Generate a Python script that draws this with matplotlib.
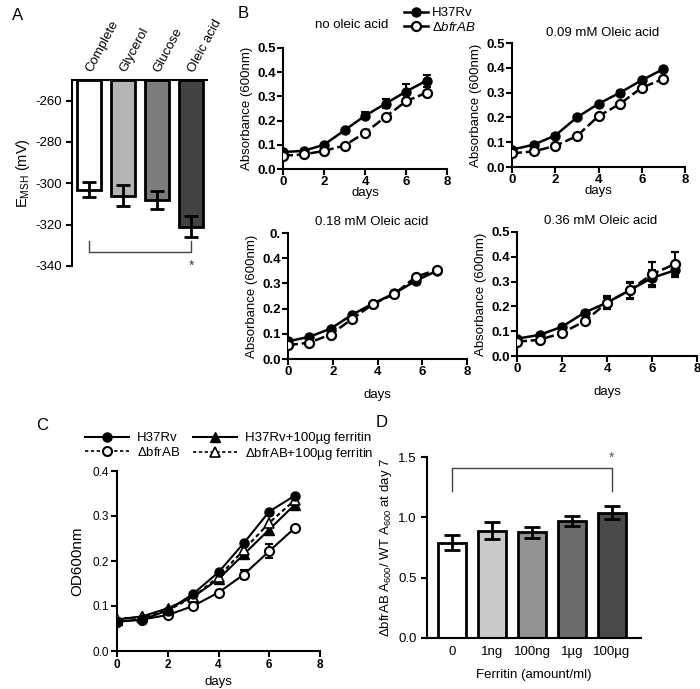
import matplotlib
matplotlib.use('Agg')
import matplotlib.pyplot as plt
from matplotlib.lines import Line2D
import numpy as np

plt.rcParams['font.family'] = ['Liberation Sans', 'DejaVu Sans']
plt.rcParams['mathtext.fontset'] = 'custom'
plt.rcParams['mathtext.rm'] = 'Liberation Sans'
plt.rcParams['mathtext.it'] = 'Liberation Sans:italic'
plt.rcParams['axes.unicode_minus'] = False

W, H = 700, 689

# ---- Panel A data ----
a_labels = ['Complete', 'Glycerol', 'Glucose', 'Oleic acid']
a_values = [-303, -306, -308, -321]
a_errors = [3.5, 5, 4.5, 5]
a_colors = ['white', '#b4b4b4', '#7c7c7c', '#434343']

# ---- Panel B data ----
b_titles = ['no oleic acid', '0.09 mM Oleic acid', '0.18 mM Oleic acid', '0.36 mM Oleic acid']
days = [0, 1, 2, 3, 4, 5, 6, 7]
days_018 = [0, 0.95, 1.9, 2.85, 3.8, 4.75, 5.7, 6.65]
b_wt = [
    [0.070, 0.075, 0.100, 0.160, 0.220, 0.270, 0.320, 0.365],
    [0.070, 0.090, 0.127, 0.200, 0.255, 0.300, 0.350, 0.395],
    [0.070, 0.088, 0.120, 0.175, 0.220, 0.260, 0.310, 0.350],
    [0.070, 0.085, 0.118, 0.175, 0.215, 0.265, 0.315, 0.345],
]
b_wt_err = [
    [0.005, 0.005, 0.005, 0.005, 0.015, 0.020, 0.030, 0.025],
    [0.005, 0.005, 0.005, 0.005, 0.005, 0.005, 0.005, 0.005],
    [0.005, 0.005, 0.005, 0.005, 0.005, 0.005, 0.005, 0.005],
    [0.005, 0.005, 0.005, 0.005, 0.020, 0.030, 0.030, 0.020],
]
b_mut = [
    [0.055, 0.060, 0.075, 0.097, 0.150, 0.215, 0.280, 0.315],
    [0.055, 0.063, 0.085, 0.125, 0.205, 0.255, 0.320, 0.355],
    [0.055, 0.065, 0.097, 0.158, 0.218, 0.258, 0.325, 0.355],
    [0.058, 0.065, 0.093, 0.140, 0.215, 0.265, 0.330, 0.370],
]
b_mut_err = [
    [0.004, 0.004, 0.004, 0.004, 0.004, 0.004, 0.004, 0.004],
    [0.004, 0.004, 0.004, 0.004, 0.004, 0.004, 0.004, 0.004],
    [0.004, 0.004, 0.004, 0.004, 0.004, 0.004, 0.004, 0.004],
    [0.004, 0.004, 0.004, 0.004, 0.025, 0.035, 0.050, 0.050],
]

# ---- Panel C data ----
c_wt = [0.065, 0.070, 0.090, 0.127, 0.175, 0.240, 0.310, 0.345]
c_mut = [0.065, 0.070, 0.080, 0.100, 0.130, 0.170, 0.222, 0.273]
c_mut_err = [0.003, 0.003, 0.003, 0.003, 0.003, 0.010, 0.015, 0.003]
c_wt_fer = [0.070, 0.077, 0.095, 0.120, 0.160, 0.215, 0.270, 0.325]
c_mut_fer = [0.072, 0.075, 0.090, 0.120, 0.165, 0.225, 0.285, 0.335]

# ---- Panel D data ----
d_labels = ['0', '1ng', '100ng', '1µg', '100µg']
d_values = [0.79, 0.89, 0.875, 0.97, 1.04]
d_errors = [0.06, 0.07, 0.045, 0.04, 0.05]
d_colors = ['white', '#c9c9c9', '#929292', '#6c6c6c', '#4a4a4a']


def px(l, t, r, b):
    return [l / W, 1 - b / H, (r - l) / W, (b - t) / H]


def style(ax):
    for s in ['top', 'right']:
        ax.spines[s].set_visible(False)
    for s in ['left', 'bottom']:
        ax.spines[s].set_linewidth(1.5)
    ax.tick_params(width=1.5, length=4)


fig = plt.figure(figsize=(W / 100, H / 100), dpi=100)

# ================= Panel A =================
ax = fig.add_axes(px(72, 80, 207, 266))
x = np.arange(len(a_labels))
top = -250
ax.bar(x, np.array(a_values) - top, bottom=top, width=0.68, color=a_colors,
       edgecolor='black', linewidth=2)
ax.errorbar(x, a_values, yerr=a_errors, fmt='none', ecolor='black',
            elinewidth=2, capsize=5, capthick=2)
ax.set_xlim(-0.5, 3.47)
ax.set_ylim(-340, -250)
ax.set_yticks([-260, -280, -300, -320, -340])
ax.spines['right'].set_visible(False)
ax.spines['bottom'].set_visible(False)
ax.spines['left'].set_linewidth(1.5)
ax.spines['top'].set_linewidth(1.5)
ax.xaxis.tick_top()
ax.set_xticks(x)
ax.set_xticklabels(a_labels, rotation=62, ha='left', va='center',
                   rotation_mode='anchor', fontsize=9.5)
ax.tick_params(axis='x', length=0, pad=6)
ax.tick_params(axis='y', width=1.5, length=4, labelsize=9.5)
ax.set_ylabel('E$_{\\mathrm{MSH}}$ (mV)', fontsize=10.5, labelpad=2)
# significance bracket
ax.plot([0, 0, 3, 3], [-328, -333, -333, -328], color='#444444', lw=1)
ax.text(3, -340, '*', ha='center', va='center', fontsize=10, color='#444444',
        clip_on=False)
fig.text(12 / W, 1 - 16 / H, 'A', fontsize=12, va='center')

# ================= Panel B =================
b_boxes = [(283, 48, 447, 169), (512, 43, 685, 167), (288, 233, 467, 359), (517, 232, 697, 356)]
b_title_pos = [(352, 25), (603, 33), (372, 222), (601, 221)]
for i, box in enumerate(b_boxes):
    ax = fig.add_axes(px(*box))
    style(ax)
    xs = days_018 if i == 2 else days
    ax.errorbar(xs, b_wt[i], yerr=b_wt_err[i], color='black', lw=1.8, marker='o',
                ms=6.5, mfc='black', mec='black', capsize=3, elinewidth=1.5,
                capthick=1.5, zorder=3)
    ax.errorbar(xs, b_mut[i], yerr=b_mut_err[i], color='black', lw=1.8,
                ls=(0, (4, 1.5)), marker='o', ms=6.5, mfc='white', mec='black',
                mew=1.6, capsize=3, elinewidth=1.5, capthick=1.5, zorder=4)
    ax.set_xlim(0, 8)
    ax.set_ylim(0, 0.5)
    ax.set_xticks([0, 2, 4, 6, 8])
    ax.set_yticks([0, 0.1, 0.2, 0.3, 0.4, 0.5])
    ylabels = ['0.0', '0.1', '0.2', '0.3', '0.4', '0.5']
    if i == 2:
        ylabels[-1] = '0.'
    ax.set_yticklabels(ylabels)
    for lab in ax.get_xticklabels() + ax.get_yticklabels():
        lab.set_fontweight('bold')
        lab.set_fontsize(9.5)
    ax.tick_params(pad=1)
    ax.set_ylabel('Absorbance (600nm)', fontsize=9.5, labelpad=3)
    ax.set_xlabel('days', fontsize=9.5, labelpad=8 if i >= 2 else -1)
    tx, ty = b_title_pos[i]
    fig.text(tx / W, 1 - ty / H, b_titles[i], fontsize=9.5, ha='center', va='center')

fig.text(238 / W, 1 - 14 / H, 'B', fontsize=12, va='center')
b_handles = [
    Line2D([], [], color='black', lw=1.8, marker='o', ms=6.5, mfc='black'),
    Line2D([], [], color='black', lw=1.8, marker='o', ms=6.5, mfc='white', mew=1.6),
]
fig.legend(b_handles, ['H37Rv', '$\\Delta$$\\it{bfrAB}$'], loc='upper left',
           bbox_to_anchor=(395 / W, 1 + 2 / H), frameon=False, fontsize=9.5,
           handlelength=1.8, handletextpad=0.3, labelspacing=0.1, borderpad=0.2)

# ================= Panel C =================
ax = fig.add_axes(px(117, 471, 320, 651))
style(ax)
ax.plot(days, c_wt, color='black', lw=1.5, marker='o', ms=6.5, mfc='black', zorder=4)
ax.errorbar(days, c_mut, yerr=c_mut_err, color='black', lw=1.5, marker='o', ms=6.5,
            mfc='white', mew=1.5, capsize=3, elinewidth=1.5, capthick=1.5, zorder=3)
ax.plot(days, c_wt_fer, color='black', lw=1.5, marker='^', ms=7.5, mfc='black', zorder=3)
ax.plot(days, c_mut_fer, color='black', lw=1.5, ls=(0, (2, 1.5)), marker='^', ms=7.5,
        mfc='white', mew=1.2, zorder=3)
ax.set_xlim(0, 8)
ax.set_ylim(0, 0.4)
ax.set_xticks([0, 2, 4, 6, 8])
ax.set_yticks([0, 0.1, 0.2, 0.3, 0.4])
ax.set_yticklabels(['0.0', '0.1', '0.2', '0.3', '0.4'])
for lab in ax.get_xticklabels():
    lab.set_fontweight('bold')
ax.tick_params(labelsize=8.5, pad=2)
ax.set_ylabel('OD600nm', fontsize=11, labelpad=6)
ax.set_xlabel('days', fontsize=9.5, labelpad=3)
fig.text(36 / W, 1 - 425 / H, 'C', fontsize=12, va='center')

c_handles = [
    Line2D([], [], color='black', lw=1.5, marker='o', ms=6.5, mfc='black'),
    Line2D([], [], color='black', lw=1.2, ls=(0, (2, 1.5)), marker='o', ms=6.5, mfc='white', mew=1.5),
    Line2D([], [], color='black', lw=1.5, marker='^', ms=7.5, mfc='black'),
    Line2D([], [], color='black', lw=1.2, ls=(0, (2, 1.5)), marker='^', ms=7.5, mfc='white', mew=1.2),
]
fig.legend(c_handles, ['H37Rv', '$\\Delta$bfrAB', 'H37Rv+100µg ferritin',
                       '$\\Delta$bfrAB+100µg ferritin'],
           loc='upper left', ncol=2, bbox_to_anchor=(76 / W, 1 - 423 / H),
           frameon=False, fontsize=9.5, handlelength=3.3, handletextpad=0.6,
           labelspacing=0.1, columnspacing=1.0, borderpad=0.2)

# ================= Panel D =================
ax = fig.add_axes(px(427, 457, 641, 638))
style(ax)
x = np.arange(len(d_labels))
ax.bar(x, d_values, width=0.68, color=d_colors, edgecolor='black', linewidth=2)
ax.errorbar(x, d_values, yerr=d_errors, fmt='none', ecolor='black', elinewidth=2,
            capsize=6, capthick=2)
ax.set_xlim(-0.625, 4.725)
ax.set_ylim(0, 1.5)
ax.set_yticks([0, 0.5, 1.0, 1.5])
ax.set_xticks(x)
ax.set_xticklabels(d_labels)
ax.tick_params(axis='x', length=0, pad=6)
ax.tick_params(labelsize=9.5)
ax.set_ylabel('$\\Delta$bfrAB A$_{600}$/ WT A$_{600}$ at day 7', fontsize=9.5, labelpad=3)
ax.set_xlabel('Ferritin (amount/ml)', fontsize=9.5, labelpad=8)
ax.plot([0, 0, 4, 4], [1.22, 1.41, 1.41, 1.22], color='#444444', lw=1)
ax.text(4, 1.49, '*', ha='center', va='center', fontsize=10, color='#555555')
fig.text(376 / W, 1 - 423 / H, 'D', fontsize=12, va='center')

fig.savefig('out.png', dpi=100, facecolor='white')
